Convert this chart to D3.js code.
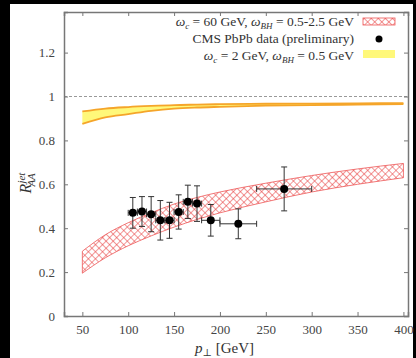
<!DOCTYPE html>
<html>
<head>
<meta charset="utf-8">
<script src="https://cdn.jsdelivr.net/npm/d3@7"></script>
<style>
  body { margin: 0; background: #000; }
  svg { display: block; }
  text { font-family: "Liberation Serif", "DejaVu Serif", serif; }
</style>
</head>
<body>
<div id="chart"></div>
<script>
const W = 416, H = 358;
const margin = { left: 64, right: 8, top: 12, bottom: 42 };

// theory bands
const bandPt = [50, 75, 100, 125, 150, 175, 200, 250, 300, 350, 400];
const wideLow = [0.195, 0.265, 0.32, 0.365, 0.405, 0.44, 0.47, 0.52, 0.565, 0.6, 0.63];
const wideHigh = [0.295, 0.37, 0.425, 0.47, 0.51, 0.54, 0.565, 0.605, 0.64, 0.67, 0.695];
const narrowLow = [0.875, 0.905, 0.92, 0.935, 0.945, 0.95, 0.953, 0.958, 0.961, 0.963, 0.965];
const narrowHigh = [0.932, 0.945, 0.952, 0.957, 0.961, 0.963, 0.965, 0.967, 0.968, 0.969, 0.97];

// CMS data
const dataPt = [105, 115, 125, 135, 145, 155, 165, 175, 190, 220, 270];
const dataPtErr = [5, 5, 5, 5, 5, 5, 5, 5, 10, 20, 30];
const dataR = [0.47, 0.476, 0.464, 0.436, 0.436, 0.474, 0.52, 0.512, 0.436, 0.42, 0.579];
const dataRErr = [0.07, 0.068, 0.08, 0.09, 0.082, 0.078, 0.076, 0.081, 0.072, 0.068, 0.1];

const xTicks = [50, 100, 150, 200, 250, 300, 350, 400];
const yTicks = [0, 0.2, 0.4, 0.6, 0.8, 1, 1.2];

const svg = d3.select("#chart").append("svg").attr("width", W).attr("height", H);
svg.append("rect").attr("width", W).attr("height", H).attr("fill", "#000");
svg.append("rect").attr("x", 10).attr("y", 4).attr("width", 403).attr("height", H - 4).attr("fill", "#fff");

const x = d3.scaleLinear().domain([30, 405]).range([margin.left, W - margin.right]);
const y = d3.scaleLinear().domain([0, 1.385]).range([H - margin.bottom, margin.top]);

// hatch pattern
const defs = svg.append("defs");
const pat = defs.append("pattern").attr("id", "hatch").attr("patternUnits", "userSpaceOnUse")
  .attr("width", 5).attr("height", 5).attr("patternTransform", "rotate(45)");
pat.append("line").attr("x1", 0).attr("y1", 0).attr("x2", 0).attr("y2", 5).attr("stroke", "#e84040").attr("stroke-width", 1.1);
pat.append("line").attr("x1", 0).attr("y1", 0).attr("x2", 5).attr("y2", 0).attr("stroke", "#e84040").attr("stroke-width", 1.1);

const wide = bandPt.map((p, i) => ({ p, lo: wideLow[i], hi: wideHigh[i] }));
const narrow = bandPt.map((p, i) => ({ p, lo: narrowLow[i], hi: narrowHigh[i] }));
const area = d3.area().x(d => x(d.p)).y0(d => y(d.lo)).y1(d => y(d.hi)).curve(d3.curveMonotoneX);
const lineLo = d3.line().x(d => x(d.p)).y(d => y(d.lo)).curve(d3.curveMonotoneX);
const lineHi = d3.line().x(d => x(d.p)).y(d => y(d.hi)).curve(d3.curveMonotoneX);

// dashed line at 1
svg.append("line").attr("x1", x(30)).attr("x2", x(405)).attr("y1", y(1)).attr("y2", y(1))
  .attr("stroke", "#999").attr("stroke-dasharray", "3,2").attr("stroke-width", 1);

// red band
svg.append("path").datum(wide).attr("d", area).attr("fill", "url(#hatch)").attr("stroke", "#ee5555").attr("stroke-width", 0.8);

// yellow band
svg.append("path").datum(narrow).attr("d", area).attr("fill", "#fff87a");
[lineLo, lineHi].forEach(l => svg.append("path").datum(narrow).attr("d", l)
  .attr("fill", "none").attr("stroke", "#f5a52a").attr("stroke-width", 1.8));

// data
const pts = dataPt.map((p, i) => ({ p, ep: dataPtErr[i], r: dataR[i], er: dataRErr[i] }));
const eb = svg.append("g").attr("stroke", "#333").attr("stroke-width", 1);
pts.forEach(d => {
  eb.append("line").attr("x1", x(d.p)).attr("x2", x(d.p)).attr("y1", y(d.r - d.er)).attr("y2", y(d.r + d.er));
  eb.append("line").attr("x1", x(d.p) - 3).attr("x2", x(d.p) + 3).attr("y1", y(d.r - d.er)).attr("y2", y(d.r - d.er));
  eb.append("line").attr("x1", x(d.p) - 3).attr("x2", x(d.p) + 3).attr("y1", y(d.r + d.er)).attr("y2", y(d.r + d.er));
  eb.append("line").attr("x1", x(d.p - d.ep)).attr("x2", x(d.p + d.ep)).attr("y1", y(d.r)).attr("y2", y(d.r));
  eb.append("line").attr("x1", x(d.p - d.ep)).attr("x2", x(d.p - d.ep)).attr("y1", y(d.r) - 3).attr("y2", y(d.r) + 3);
  eb.append("line").attr("x1", x(d.p + d.ep)).attr("x2", x(d.p + d.ep)).attr("y1", y(d.r) - 3).attr("y2", y(d.r) + 3);
});
svg.append("g").selectAll("circle").data(pts).join("circle")
  .attr("cx", d => x(d.p)).attr("cy", d => y(d.r)).attr("r", 4).attr("fill", "#000");

// axes with mirrored ticks
const axCol = "#777";
const fmtY = d => d === 0 ? "0" : (d === 1 ? "1" : d3.format(".1f")(d));
const gxB = svg.append("g").attr("transform", `translate(0,${y(0)})`)
  .call(d3.axisBottom(x).tickValues(xTicks).tickSize(-4).tickPadding(9));
const gxT = svg.append("g").attr("transform", `translate(0,${y(1.385)})`)
  .call(d3.axisTop(x).tickValues(xTicks).tickSize(-4).tickFormat(""));
const gyL = svg.append("g").attr("transform", `translate(${x(30)},0)`)
  .call(d3.axisLeft(y).tickValues(yTicks).tickSize(-4).tickPadding(9).tickFormat(fmtY));
const gyR = svg.append("g").attr("transform", `translate(${x(405)},0)`)
  .call(d3.axisRight(y).tickValues(yTicks).tickSize(-4).tickFormat(""));
[gxB, gxT, gyL, gyR].forEach(g => {
  g.select(".domain").attr("stroke", axCol).attr("stroke-width", 1.5);
  g.selectAll(".tick line").attr("stroke", axCol);
  g.selectAll(".tick text").attr("fill", "#444").attr("font-size", 13)
    .attr("font-family", "'Liberation Serif', serif");
});

// axis titles
svg.append("text").attr("x", x(205)).attr("y", 353).attr("text-anchor", "middle")
  .attr("font-size", 15).attr("fill", "#333")
  .call(t => {
    t.append("tspan").attr("font-style", "italic").text("p");
    t.append("tspan").attr("font-size", 10).attr("dy", 3).text("⊥");
    t.append("tspan").attr("dy", -3).text(" [GeV]");
  });
svg.append("text").attr("transform", `translate(31,183) rotate(-90)`).attr("text-anchor", "middle")
  .attr("font-size", 16).attr("fill", "#333").attr("font-style", "italic")
  .call(t => {
    t.append("tspan").text("R");
    t.append("tspan").attr("font-size", 11).attr("dy", -6).text("jet");
    t.append("tspan").attr("font-size", 11).attr("dx", -14).attr("dy", 10).text("AA");
  });

// legend
const legRight = 354;
const leg = svg.append("g").attr("font-size", 13.5).attr("fill", "#333");
function omega(t, sub, rest) {
  t.append("tspan").attr("font-style", "italic").text("ω");
  t.append("tspan").attr("font-style", "italic").attr("font-size", 9).attr("dy", 3).text(sub);
  t.append("tspan").attr("dy", -3).text(rest);
}
leg.append("text").attr("x", legRight).attr("y", 26).attr("text-anchor", "end")
  .call(t => { omega(t, "c", " = 60 GeV, "); omega(t, "BH", " = 0.5-2.5 GeV"); });
leg.append("text").attr("x", legRight).attr("y", 43).attr("text-anchor", "end")
  .text("CMS PbPb data (preliminary)");
leg.append("text").attr("x", legRight).attr("y", 60).attr("text-anchor", "end")
  .call(t => { omega(t, "c", " = 2 GeV, "); omega(t, "BH", " = 0.5 GeV"); });
svg.append("rect").attr("x", 363).attr("y", 18).attr("width", 32).attr("height", 7)
  .attr("fill", "url(#hatch)").attr("stroke", "#ee5555").attr("stroke-width", 0.8);
svg.append("circle").attr("cx", 379).attr("cy", 39).attr("r", 3.5).attr("fill", "#000");
svg.append("rect").attr("x", 363).attr("y", 50).attr("width", 32).attr("height", 8).attr("fill", "#fff87a");
</script>
</body>
</html>
